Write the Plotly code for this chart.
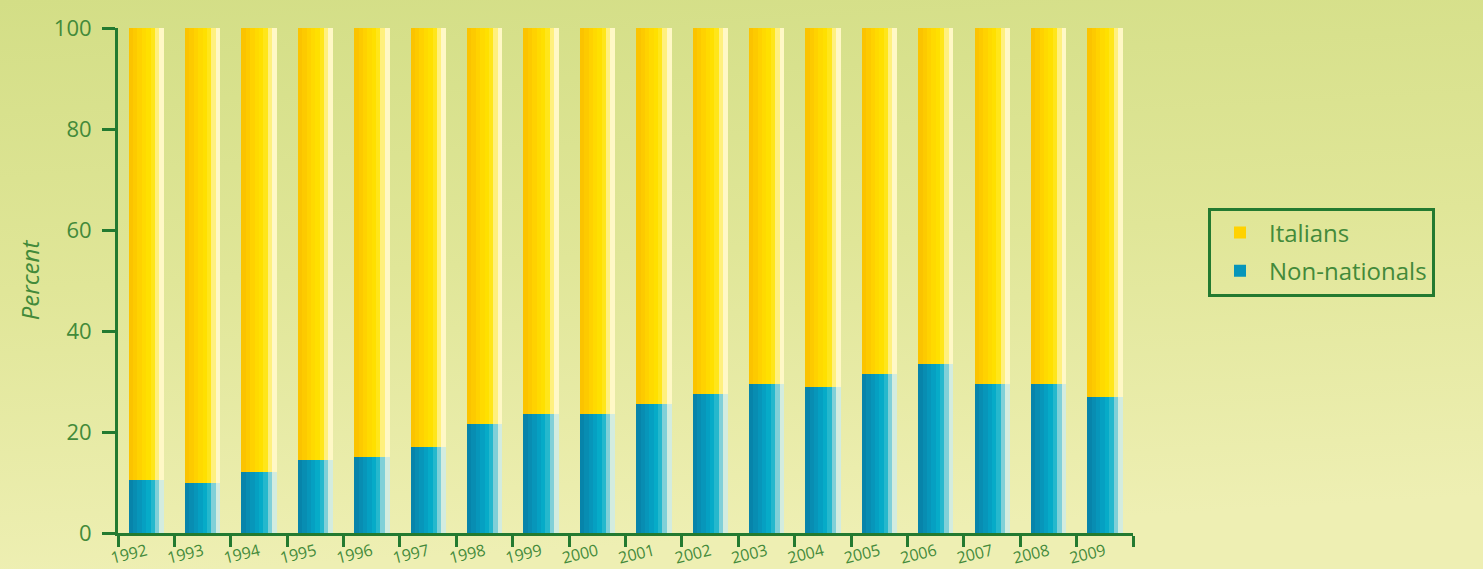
import base64
import plotly.graph_objects as go

# ---- data ----
years = [str(y) for y in range(1992, 2010)]
non_nationals = [10.5, 10.0, 12.0, 14.5, 15.0, 17.0, 21.5, 23.5, 23.5,
                 25.5, 27.5, 29.5, 29.0, 31.5, 33.5, 29.5, 29.5, 27.0]
italians = [89.5, 90.0, 88.0, 85.5, 85.0, 83.0, 78.5, 76.5, 76.5,
            74.5, 72.5, 70.5, 71.0, 68.5, 66.5, 70.5, 70.5, 73.0]
y_ticks = [0, 20, 40, 60, 80, 100]

# ---- style ----
GREEN = "#237a30"
TEXT_GREEN = "#438a3a"
FONT = "Open Sans"
W, H = 1483, 569
ML, MR, MT, MB = 118, 350, 28, 36

teal_shades = ["#0784aa", "#088db2", "#0796ba", "#05a0c2", "#06abc8",
               "#25b8cd", "#80d0d8", "#d3ecdf"]
yellow_shades = ["#fbc300", "#fdca00", "#ffd200", "#ffda00", "#ffe000",
                 "#ffe61a", "#fff07e", "#fff8c6"]
bar_w = 0.62
n = len(teal_shades)
step = bar_w / n

fig = go.Figure()

def add_series(name, values, base, shades, rank):
    for i, col in enumerate(shades):
        fig.add_trace(go.Bar(
            x=years, y=values, base=base,
            width=step + 0.006, offset=-bar_w / 2 + i * step,
            marker=dict(color=col, line=dict(width=0)),
            name=name, legendgroup=name, legendrank=rank,
            showlegend=(i == 2),
            hovertemplate=name + " %{x}: %{y}%<extra></extra>",
        ))

add_series("Non-nationals", non_nationals, [0] * len(years), teal_shades, 2)
add_series("Italians", italians, non_nationals, yellow_shades, 1)

# background gradient via inline SVG image
svg = (
    f'<svg xmlns="http://www.w3.org/2000/svg" width="{W}" height="{H}" '
    f'viewBox="0 0 {W} {H}" preserveAspectRatio="none">'
    '<defs><linearGradient id="g" x1="0" y1="0" x2="0.15" y2="1">'
    '<stop offset="0" stop-color="#d3de86"/>'
    '<stop offset="0.5" stop-color="#e0e698"/>'
    '<stop offset="1" stop-color="#eeefb3"/>'
    '</linearGradient></defs>'
    f'<rect x="0" y="0" width="{W}" height="{H}" fill="url(#g)"/></svg>'
)
src = "data:image/svg+xml;base64," + base64.b64encode(svg.encode()).decode()
pw = W - ML - MR
ph = H - MT - MB

fig.update_layout(
    width=W, height=H,
    margin=dict(l=ML, r=MR, t=MT, b=MB, autoexpand=False),
    barmode="overlay",
    paper_bgcolor="#e0e698",
    plot_bgcolor="rgba(0,0,0,0)",
    font=dict(family=FONT, color=TEXT_GREEN, size=18),
    images=[dict(source=src, xref="paper", yref="paper",
                 x=-ML / pw, y=1 + MT / ph, sizex=W / pw, sizey=H / ph,
                 sizing="stretch", layer="below", xanchor="left", yanchor="top")],
    legend=dict(
        x=(1208 - ML) / pw, y=(H - MB - 252) / ph,
        xanchor="left", yanchor="middle",
        bgcolor="rgba(0,0,0,0)", bordercolor=GREEN, borderwidth=3,
        font=dict(family=FONT, size=24, color=TEXT_GREEN),
        itemwidth=48, tracegroupgap=4,
    ),
    showlegend=True,
    bargap=0,
)

fig.update_xaxes(
    type="category", tickson="boundaries",
    showline=True, linecolor=GREEN, linewidth=3,
    ticks="outside", ticklen=11, tickwidth=3, tickcolor=GREEN,
    tickangle=-14, tickfont=dict(size=16, color=TEXT_GREEN),
    showgrid=False, zeroline=False, automargin=False,
    range=[-0.5, len(years) - 0.5],
)
fig.update_yaxes(
    range=[0, 100], tickvals=y_ticks,
    showline=True, linecolor=GREEN, linewidth=3,
    ticks="outside", ticklen=13, tickwidth=3, tickcolor=GREEN,
    ticklabelstandoff=6,
    tickfont=dict(size=22, color=TEXT_GREEN),
    showgrid=False, zeroline=False, automargin=False,
    title=dict(text="<i>Percent</i>", font=dict(size=24, color=TEXT_GREEN),
               standoff=8),
)

fig.write_html("out.html")
